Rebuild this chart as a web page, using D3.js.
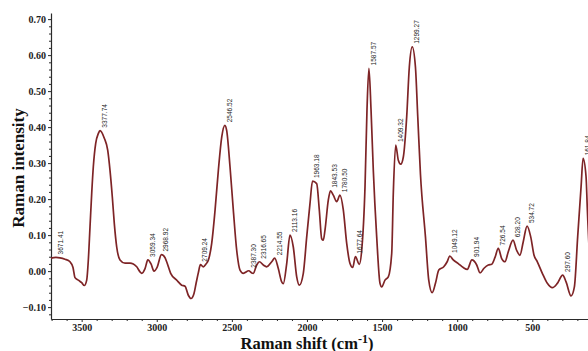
<!DOCTYPE html>
<html>
<head>
<meta charset="utf-8">
<script src="https://cdn.jsdelivr.net/npm/d3@7"></script>
<style>
  html, body { margin: 0; padding: 0; background: #fff; }
  svg { display: block; }
</style>
</head>
<body>
<svg id="chart" width="588" height="351"></svg>
<script>
// Raman spectrum: wavenumber (cm-1) and intensity, ordered from high to low shift
const wavenumber = [
  3704, 3671.41, 3644, 3610.7, 3577.4, 3557.5, 3544.2, 3522.2, 3499.6, 3482.2,
  3466.3, 3455.6, 3444.3, 3433, 3422.3, 3406.4, 3389, 3377.74, 3349.1, 3326.5,
  3311.2, 3295.8, 3282.5, 3266.6, 3244.6, 3211.3, 3178, 3156, 3133.4, 3111.4,
  3100, 3078, 3059.34, 3038.2, 3018.3, 2996.3, 2968.92, 2945.6, 2934, 2907.4,
  2867.4, 2834, 2811.9, 2789.9, 2772, 2752, 2738.7, 2723.4, 2709.24, 2690,
  2672, 2656.8, 2634.2, 2611.7, 2589.9, 2567.3, 2546.52, 2534.3, 2512.3, 2490.4,
  2467.8, 2445.8, 2423.8, 2387.30, 2367.8, 2357.2, 2334.6, 2316.65, 2290.7, 2268,
  2234.7, 2214.55, 2190.8, 2168.2, 2157.5, 2134.9, 2113.16, 2091, 2068.3, 2051,
  2024.4, 2001.7, 1979.8, 1963.18, 1935.2, 1917.9, 1901.9, 1891.3, 1880, 1858,
  1843.53, 1824.7, 1802.1, 1780.50, 1758.1, 1735.5, 1713.5, 1695.5, 1677.64, 1651.6,
  1635.6, 1613.6, 1600.3, 1587.57, 1573.7, 1558.4, 1535.8, 1513.8, 1502.5, 1480.5,
  1458.5, 1435.9, 1425, 1409.32, 1391.8, 1375.8, 1358.5, 1335.9, 1318.6, 1299.27,
  1277.9, 1262.6, 1244.6, 1211.2, 1189.3, 1166.6, 1144.7, 1122.7, 1089.4, 1066.8,
  1049.12, 1026, 992.6, 959.4, 932.7, 901.94, 870, 848, 821.4, 792.8,
  770.2, 748.2, 726.54, 703.8, 681.8, 659.9, 628.20, 604.5, 582.5, 560.5,
  534.72, 510.4, 488.4, 466.4, 433.2, 399.9, 366.6, 333.4, 297.60, 275.1,
  241.8, 219.8, 197.9, 175.3, 161.84, 142.1, 133.4, 120, 100
];
const intensity = [
  0.036, 0.038, 0.037, 0.033, 0.026, 0.010, -0.018, -0.025, -0.032, -0.040,
  -0.025, 0.030, 0.123, 0.216, 0.290, 0.355, 0.382, 0.390, 0.369, 0.336,
  0.280, 0.206, 0.132, 0.067, 0.031, 0.022, 0.022, 0.020, 0.012, -0.002,
  -0.006, 0.007, 0.031, 0.020, 0.000, 0.012, 0.046, 0.038, 0.026, -0.006,
  -0.025, -0.039, -0.042, -0.067, -0.076, -0.062, -0.035, -0.005, 0.018, 0.012,
  0.020, 0.030, 0.077, 0.170, 0.280, 0.373, 0.405, 0.390, 0.290, 0.170,
  0.058, 0.003, -0.006, 0.001, -0.005, -0.006, 0.017, 0.026, 0.017, 0.012,
  0.026, 0.036, 0.007, -0.030, -0.035, 0.021, 0.100, 0.067, -0.016, -0.039,
  -0.006, 0.095, 0.188, 0.250, 0.243, 0.170, 0.090, 0.086, 0.114, 0.197,
  0.223, 0.211, 0.193, 0.211, 0.170, 0.077, 0.021, 0.010, 0.040, 0.019,
  0.058, 0.234, 0.450, 0.563, 0.450, 0.280, 0.095, -0.034, -0.044, -0.025,
  -0.016, 0.049, 0.220, 0.350, 0.308, 0.297, 0.317, 0.430, 0.567, 0.623,
  0.567, 0.430, 0.270, 0.095, -0.025, -0.060, -0.034, 0.003, 0.012, 0.026,
  0.042, 0.031, 0.021, 0.010, 0.005, 0.031, 0.017, -0.005, 0.008, 0.017,
  0.019, 0.038, 0.063, 0.035, 0.026, 0.054, 0.086, 0.058, 0.044, 0.081,
  0.125, 0.095, 0.044, 0.026, -0.006, -0.034, -0.046, -0.034, -0.011, -0.030,
  -0.069, -0.044, 0.095, 0.234, 0.313, 0.262, 0.170, 0.050, -0.030
];
// Annotated band positions
const peakLabels = [
  "3671.41", "3377.74", "3059.34", "2968.92", "2709.24", "2546.52", "2387.30",
  "2316.65", "2214.55", "2113.16", "1963.18", "1843.53", "1780.50", "1677.64",
  "1587.57", "1409.32", "1299.27", "1049.12", "901.94", "726.54", "628.20",
  "534.72", "297.60", "161.84"
];
const xMajorTicks = [3500, 3000, 2500, 2000, 1500, 1000, 500];
const yMajorTicks = [-0.10, 0.00, 0.10, 0.20, 0.30, 0.40, 0.50, 0.60, 0.70];

const svg = d3.select("#chart");
const plotLeft = 51, plotBottom = 319, plotTop = 13;

const x = d3.scaleLinear().domain([3704, 0]).range([plotLeft, 607.4]);
const y = d3.scaleLinear().domain([-0.133, 0.717]).range([plotBottom, plotTop]);

const serif = "'Liberation Serif', 'Times New Roman', serif";
const axisColor = "#2a2a2a";

// Minor ticks
const xMinor = d3.range(3700, 0, -100).filter(v => v % 500 !== 0);
const yMinor = d3.range(-12, 71, 2).map(v => v / 100).filter(v => Math.round(v * 100) % 10 !== 0);

svg.append("g")
  .attr("transform", `translate(0,${plotBottom})`)
  .call(d3.axisBottom(x).tickValues(xMinor).tickSize(2).tickSizeOuter(0).tickFormat(""))
  .call(g => g.select(".domain").remove())
  .call(g => g.selectAll("line").attr("stroke", axisColor));

svg.append("g")
  .attr("transform", `translate(${plotLeft},0)`)
  .call(d3.axisLeft(y).tickValues(yMinor).tickSize(2).tickSizeOuter(0).tickFormat(""))
  .call(g => g.select(".domain").remove())
  .call(g => g.selectAll("line").attr("stroke", axisColor));

// Major axes
const xAxis = svg.append("g")
  .attr("transform", `translate(0,${plotBottom})`)
  .call(d3.axisBottom(x).tickValues(xMajorTicks).tickSize(3).tickSizeOuter(0)
    .tickPadding(2).tickFormat(d3.format("d")));
xAxis.select(".domain").attr("stroke", axisColor).attr("stroke-width", 1.2);
xAxis.selectAll("line").attr("stroke", axisColor);
xAxis.selectAll("text")
  .attr("font-family", serif).attr("font-weight", "bold")
  .attr("font-size", 10).attr("fill", "#222");

const yAxis = svg.append("g")
  .attr("transform", `translate(${plotLeft},0)`)
  .call(d3.axisLeft(y).tickValues(yMajorTicks).tickSize(3).tickSizeOuter(0)
    .tickPadding(2).tickFormat(d3.format(".2f")));
yAxis.select(".domain").attr("stroke", axisColor).attr("stroke-width", 1.2);
yAxis.selectAll("line").attr("stroke", axisColor);
yAxis.selectAll("text")
  .attr("font-family", serif).attr("font-weight", "bold")
  .attr("font-size", 10).attr("fill", "#222");

// Spectrum line
const points = wavenumber.map((w, i) => [w, intensity[i]]);
const line = d3.line()
  .x(d => x(d[0]))
  .y(d => y(d[1]))
  .curve(d3.curveMonotoneX);

svg.append("path")
  .datum(points)
  .attr("fill", "none")
  .attr("stroke", "#7e2426")
  .attr("stroke-width", 1.7)
  .attr("stroke-linejoin", "round")
  .attr("d", line);

// Band labels, vertical, just above each maximum
const labelG = svg.append("g");
peakLabels.forEach(lbl => {
  const w = +lbl;
  const idx = wavenumber.findIndex(v => Math.abs(v - w) < 0.005);
  const val = intensity[idx];
  labelG.append("text")
    .attr("transform", `translate(${x(w) + 7},${y(val) - 3}) rotate(-90) scale(0.82,1)`)
    .attr("font-family", "'Liberation Sans', Arial, sans-serif")
    .attr("font-size", 8)
    .attr("fill", "#222")
    .text(lbl);
});

// Axis titles
const xTitle = svg.append("text")
  .attr("x", 307).attr("y", 348.5)
  .attr("text-anchor", "middle")
  .attr("font-family", serif).attr("font-weight", "bold")
  .attr("font-size", 16.5).attr("fill", "#111");
xTitle.append("tspan").text("Raman shift (cm");
xTitle.append("tspan").attr("font-size", 12).attr("dy", -6).text("-1");
xTitle.append("tspan").attr("dy", 6).text(")");

svg.append("text")
  .attr("transform", "translate(24,168) rotate(-90)")
  .attr("text-anchor", "middle")
  .attr("font-family", serif).attr("font-weight", "bold")
  .attr("font-size", 17).attr("fill", "#111")
  .text("Raman intensity");
</script>
</body>
</html>
